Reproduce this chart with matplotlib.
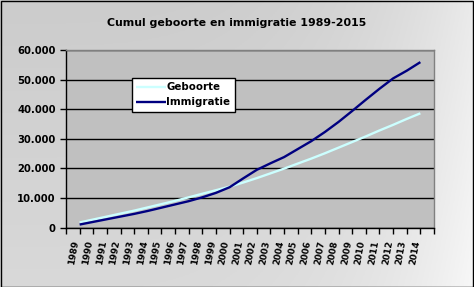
import numpy as np
import matplotlib
matplotlib.use("Agg")
import matplotlib.pyplot as plt
from matplotlib.patches import Rectangle
from matplotlib.ticker import FuncFormatter, FixedLocator

# ---- data ----
years = [str(y) for y in range(1989, 2015)]
geboorte = [1.7, 2.7, 3.7, 4.7, 5.7, 6.8, 7.9, 9.0, 10.2, 11.4, 12.6, 13.8, 15.2,
            16.7, 18.3, 19.9, 21.6, 23.3, 25.1, 27.0, 28.9, 30.8, 32.8, 34.7, 36.7, 38.6]
immigratie = [1.0, 1.9, 2.8, 3.7, 4.6, 5.6, 6.7, 7.8, 8.9, 10.2, 11.7, 13.6, 16.6,
              19.5, 21.7, 23.8, 26.5, 29.2, 32.3, 35.7, 39.4, 43.2, 46.9, 50.4, 53.0, 55.9]
geboorte = [v * 1000 for v in geboorte]
immigratie = [v * 1000 for v in immigratie]
title = "Cumul geboorte en immigratie 1989-2015"

W, H = 474, 287
fig = plt.figure(figsize=(W / 100, H / 100), dpi=100)

# background gradient
bg = fig.add_axes([0, 0, 1, 1], zorder=-10)
xx, yy = np.meshgrid(np.linspace(0, 1, 200), np.linspace(0, 1, 120))
val = 0.80 + 0.05 * (1 - yy) + 0.12 * xx ** 4
bg.imshow(np.dstack([val, val, val]), aspect='auto', extent=[0, 1, 0, 1], origin='lower')
bg.set_axis_off()
bg.add_patch(Rectangle((0.5 / W, 0.5 / H), 1 - 1.5 / W, 1 - 1.5 / H, transform=bg.transAxes,
                       fill=False, edgecolor='black', linewidth=1.0))

left, right, top, bottom = 66, 434, 50, 227.5
ax = fig.add_axes([left / W, 1 - bottom / H, (right - left) / W, (bottom - top) / H])
ax.set_facecolor('#c0c0c0')

x = np.arange(1, len(years) + 1)
ax.plot(x, geboorte, color='#ccffff', lw=1.7, label='Geboorte', solid_capstyle='butt')
ax.plot(x, immigratie, color='#000080', lw=1.7, label='Immigratie', solid_capstyle='butt')

ax.set_xlim(0, len(years) + 1)
ax.set_ylim(0, 60000)
ax.yaxis.set_major_locator(FixedLocator(np.arange(0, 60001, 10000)))
ax.yaxis.set_major_formatter(FuncFormatter(lambda v, p: f"{int(v):,}".replace(',', '.')))
ax.grid(axis='y', color='black', lw=1.0)
ax.set_axisbelow(True)

ax.xaxis.set_major_locator(FixedLocator(np.arange(0, len(years) + 2)))
ax.xaxis.set_major_formatter(FuncFormatter(lambda v, p: ''))
ax.xaxis.set_minor_locator(FixedLocator(np.arange(len(years)) + 0.75))
ax.set_xticklabels(years, minor=True)
ax.tick_params(axis='x', which='minor', length=0, pad=9.5)
ax.tick_params(axis='x', which='major', length=4, width=1, direction='out', color='black')
ax.tick_params(axis='y', length=4, width=1, direction='out', color='black', pad=3.5)
for lab in ax.get_xticklabels(minor=True):
    lab.set_rotation(80)
    lab.set_rotation_mode('anchor')
    lab.set_ha('right')
    lab.set_va('center')
    lab.set_fontsize(6.3)
    lab.set_fontweight('bold')
for lab in ax.get_yticklabels():
    lab.set_fontsize(7.2)
    lab.set_fontweight('bold')

for s in ['top', 'right']:
    ax.spines[s].set_color('#808080')
for s in ['left', 'bottom']:
    ax.spines[s].set_color('black')
for s in ax.spines.values():
    s.set_linewidth(1.0)

leg = ax.legend(loc='upper left', bbox_to_anchor=(131.7 / W, 1 - 77.7 / H),
                bbox_transform=fig.transFigure, frameon=True, fancybox=False,
                edgecolor='black', framealpha=1, facecolor='white',
                prop={'weight': 'bold', 'size': 7.4}, handlelength=2.9,
                handletextpad=0.0, borderpad=0.45, labelspacing=0.5, borderaxespad=0)
leg.get_frame().set_linewidth(1.0)

fig.text(0.5, 1 - 23 / H, title, ha='center', va='center', fontsize=7.9, fontweight='bold')

fig.savefig('out.png', dpi=100)
